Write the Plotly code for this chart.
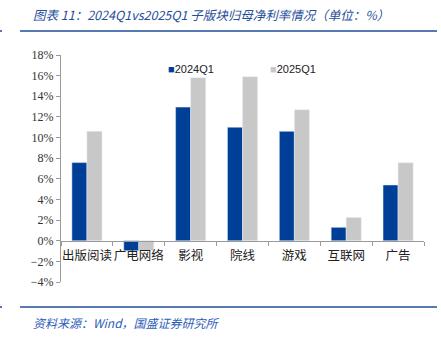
import plotly.graph_objects as go

categories = ["出版阅读", "广电网络", "影视", "院线", "游戏", "互联网", "广告"]
q2024 = [7.57, -0.97, 12.95, 11.0, 10.6, 1.3, 5.4]
q2025 = [10.6, -0.95, 15.8, 15.9, 12.7, 2.25, 7.55]
series_names = ["2024Q1", "2025Q1"]
series_colors = ["#003F98", "#C8C8C8"]
ytick_vals = [-4, -2, 0, 2, 4, 6, 8, 10, 12, 14, 16, 18]
ytick_text = [f"{v}%" if v >= 0 else f"\u2212{-v}%" for v in ytick_vals]

W, H = 441, 341
L, R, T, B = 61, 17, 55, 59
pw, ph = W - L - R, H - T - B

def px(x):
    return (x - L) / pw

def py(y):
    return (H - B - y) / ph

fig = go.Figure()
for name, vals, col in zip(series_names, [q2024, q2025], series_colors):
    fig.add_trace(go.Bar(x=categories, y=vals, name=name, marker_color=col, showlegend=False))

fig.update_layout(
    width=W, height=H,
    margin=dict(l=L, r=R, t=T, b=B),
    plot_bgcolor="white", paper_bgcolor="white",
    barmode="group", bargap=0.42, bargroupgap=0,
    xaxis=dict(
        anchor="free", position=4 / 22,
        showline=True, linecolor="#9a9a9a", linewidth=1,
        ticks="outside", ticklen=4, tickcolor="#9a9a9a", tickson="boundaries",
        tickangle=0, ticklabelstandoff=3,
        tickfont=dict(family="Noto Sans CJK SC", size=12.5, color="#222"),
        showgrid=False, zeroline=False,
    ),
    yaxis=dict(
        range=[-4, 18], tickvals=ytick_vals, ticktext=ytick_text,
        showline=True, linecolor="#9a9a9a", linewidth=1,
        ticks="outside", ticklen=4, tickcolor="#9a9a9a",
        tickfont=dict(family="Liberation Serif", size=12, color="#333"),
        showgrid=False, zeroline=False,
    ),
    font=dict(family="Noto Sans CJK SC"),
)

# legend drawn as text
for name, col, lx in zip(series_names, series_colors, [166, 268]):
    fig.add_annotation(xref="paper", yref="paper", x=px(lx), y=py(69), xanchor="left", yanchor="middle",
                       text=f"<span style='color:{col}'>■</span>{name}", showarrow=False,
                       font=dict(family="Liberation Sans", size=11, color="#222"))

line_col = "#1F4E9A"
for yy in [31, 307]:
    fig.add_shape(type="line", xref="paper", yref="paper", x0=px(20), x1=px(437), y0=py(yy), y1=py(yy),
                  line=dict(color=line_col, width=1.5))
    fig.add_shape(type="line", xref="paper", yref="paper", x0=px(0), x1=px(2), y0=py(yy), y1=py(yy),
                  line=dict(color=line_col, width=1.5))

fig.add_annotation(xref="paper", yref="paper", x=px(31), y=py(15), xanchor="left", yanchor="middle",
                   text="<i>图表 11：2024Q1vs2025Q1 子版块归母净利率情况（单位：%）</i>",
                   showarrow=False, font=dict(family="Noto Sans CJK SC", size=12.5, color="#1F4E9A"))
fig.add_annotation(xref="paper", yref="paper", x=px(31), y=py(322), xanchor="left", yanchor="middle",
                   text="<i>资料来源：Wind，国盛证券研究所</i>",
                   showarrow=False, font=dict(family="Noto Sans CJK SC", size=12, color="#2E5CB8"))

fig.write_html("out.html")
